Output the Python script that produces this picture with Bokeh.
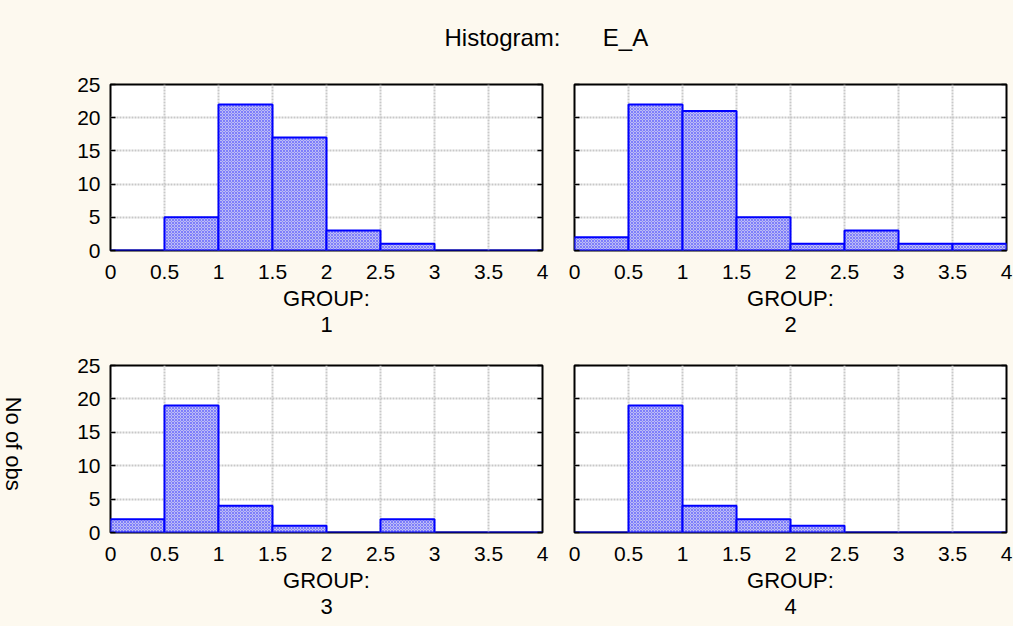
import math
from bokeh.plotting import figure
from bokeh.layouts import column, row
from bokeh.models import Range1d, LinearAxis, FixedTicker, Label, Title, ColumnDataSource
from bokeh.embed import file_html
from bokeh.resources import INLINE

# ---------------- data ----------------
bin_left = [0.0, 0.5, 1.0, 1.5, 2.0, 2.5, 3.0, 3.5]
bin_right = [0.5, 1.0, 1.5, 2.0, 2.5, 3.0, 3.5, 4.0]
counts_g1 = [0, 5, 22, 17, 3, 1, 0, 0]
counts_g2 = [2, 22, 21, 5, 1, 3, 1, 1]
counts_g3 = [2, 19, 4, 1, 0, 2, 0, 0]
counts_g4 = [0, 19, 4, 2, 1, 0, 0, 0]
group_names = ["1", "2", "3", "4"]
x_ticks = [0, 0.5, 1, 1.5, 2, 2.5, 3, 3.5, 4]
x_tick_labels = ["0", "0.5", "1", "1.5", "2", "2.5", "3", "3.5", "4"]
y_ticks = [0, 5, 10, 15, 20, 25]
y_tick_labels = ["0", "5", "10", "15", "20", "25"]
title_left = "Histogram:"
title_right = "E_A"
x_title = "GROUP:"
y_title = "No of obs"

BG = "#fdf9ef"
FONT = "Liberation Sans"
TICK_FS = "21px"
LAB_FS = "22px"


def make_panel(counts, group, show_ylabels, mb_left, mb_right, mb_top, mb_bottom, frame_h):
    p = figure(frame_width=432, frame_height=frame_h,
               x_range=Range1d(0, 4), y_range=Range1d(0, 25),
               min_border_left=mb_left, min_border_right=mb_right,
               min_border_top=mb_top, min_border_bottom=mb_bottom,
               output_backend="svg", toolbar_location=None,
               background_fill_color="white", border_fill_color=BG)
    p.outline_line_color = "black"
    p.outline_line_width = 2

    # grids
    p.xgrid.ticker = FixedTicker(ticks=x_ticks)
    p.ygrid.ticker = FixedTicker(ticks=y_ticks)
    for g in (p.xgrid, p.ygrid):
        g.grid_line_color = "#c8c8c8"
        g.grid_line_width = 2
        g.grid_line_dash = "2 1"

    # x axis
    xa = p.xaxis[0]
    xa.ticker = FixedTicker(ticks=x_ticks)
    xa.major_label_overrides = {t: l for t, l in zip(x_ticks, x_tick_labels)}
    xa.major_tick_in = 0
    xa.major_tick_out = 0
    xa.minor_tick_in = 0
    xa.minor_tick_out = 0
    xa.axis_line_color = None
    xa.major_label_standoff = 14
    xa.major_label_text_font = FONT
    xa.major_label_text_font_size = TICK_FS
    xa.major_label_text_color = "black"
    xa.axis_label = x_title
    xa.axis_label_text_font = FONT
    xa.axis_label_text_font_size = LAB_FS
    xa.axis_label_text_font_style = "normal"
    xa.axis_label_text_color = "black"
    xa.axis_label_standoff = 4

    # left y axis
    ya = p.yaxis[0]
    ya.ticker = FixedTicker(ticks=y_ticks)
    if show_ylabels:
        ya.major_label_overrides = {t: l for t, l in zip(y_ticks, y_tick_labels)}
    else:
        ya.major_label_overrides = {t: "" for t in y_ticks}
    ya.major_tick_in = 5
    ya.major_tick_out = 0
    ya.minor_tick_in = 0
    ya.minor_tick_out = 0
    ya.major_tick_line_width = 1.5
    ya.axis_line_color = None
    ya.major_label_standoff = 10
    ya.major_label_text_font = FONT
    ya.major_label_text_font_size = TICK_FS
    ya.major_label_text_color = "black"

    # right y axis (ticks only)
    ra = LinearAxis(ticker=FixedTicker(ticks=y_ticks),
                    major_label_overrides={t: "" for t in y_ticks},
                    major_tick_in=5, major_tick_out=0,
                    minor_tick_in=0, minor_tick_out=0,
                    major_tick_line_width=1.5,
                    axis_line_color=None, major_label_standoff=0)
    p.add_layout(ra, "right")

    # group number below
    t = Title(text=group, align="center", text_font=FONT, text_font_size=LAB_FS,
              text_font_style="normal", text_color="black", standoff=3)
    p.add_layout(t, "below")

    src = ColumnDataSource(dict(left=bin_left, right=bin_right, top=counts,
                                bottom=[0] * len(counts)))
    p.quad(left="left", right="right", top="top", bottom="bottom", source=src,
           fill_color="#bcbcf5", line_color="#0000ff", line_width=2,
           hatch_pattern="x", hatch_color="#4a4aff", hatch_alpha=0.55,
           hatch_scale=3, hatch_weight=1)
    return p


def blank(width, height):
    f = figure(width=width, height=height, x_range=Range1d(0, width), y_range=Range1d(0, height),
               output_backend="svg", toolbar_location=None,
               x_axis_location=None, y_axis_location=None,
               min_border=0, background_fill_color=BG, border_fill_color=BG)
    f.outline_line_color = None
    f.xgrid.visible = False
    f.ygrid.visible = False
    return f


# title strip
ttl = blank(1013, 68)
ttl.add_layout(Label(x=502, y=31, text=title_left, text_align="center", text_baseline="middle",
                     text_font=FONT, text_font_size="24px", text_color="black"))
ttl.add_layout(Label(x=625, y=31, text=title_right, text_align="center", text_baseline="middle",
                     text_font=FONT, text_font_size="24px", text_color="black"))

# narrow strip holding the shared y-axis title (left of the lower panels)
ystrip = blank(30, 286)
ystrip.add_layout(Label(x=13, y=152, text=y_title, angle=-math.pi / 2,
                        text_align="center", text_baseline="middle",
                        text_font=FONT, text_font_size="22px", text_color="black"))

p1 = make_panel(counts_g1, group_names[0], True, 110, 16, 16, 90, 166)
p2 = make_panel(counts_g2, group_names[1], False, 16, 7, 16, 90, 166)
p3 = make_panel(counts_g3, group_names[2], True, 80, 16, 25, 94, 167)
p4 = make_panel(counts_g4, group_names[3], False, 16, 7, 25, 94, 167)

bgstyle = {"background-color": BG}
layout = column(ttl,
                row(p1, p2, styles=bgstyle),
                row(ystrip, p3, p4, styles=bgstyle),
                styles=bgstyle)

open("out.html", "w").write(file_html(layout, INLINE))
